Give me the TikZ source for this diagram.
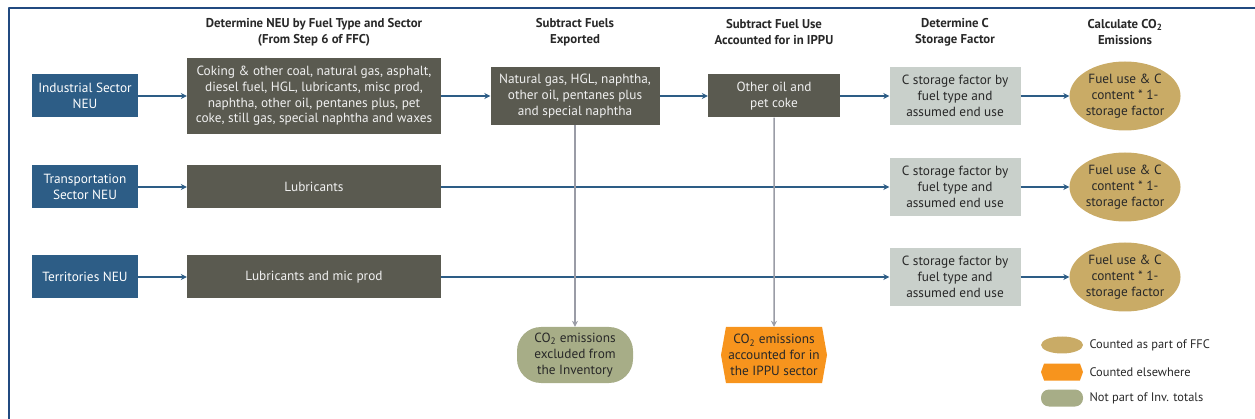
\documentclass[tikz,border=0pt]{standalone}
\usepackage{fontspec}
\setmainfont{PT Sans}
\usetikzlibrary{arrows.meta,shapes.geometric,shapes.symbols,positioning}
\definecolor{framecol}{RGB}{33,74,128}
\definecolor{secblue}{RGB}{45,93,134}
\definecolor{fuelgrey}{RGB}{90,90,80}
\definecolor{storegrey}{RGB}{201,208,203}
\definecolor{tan}{RGB}{201,171,102}
\definecolor{ippuorange}{RGB}{247,148,29}
\definecolor{olive}{RGB}{167,173,135}
\definecolor{dropgrey}{RGB}{154,156,166}
\definecolor{textdark}{RGB}{40,40,40}
\begin{document}
\begin{tikzpicture}[x=1pt,y=-1pt,>={Stealth[length=6pt,width=6pt]},
	font=\fontsize{13.3}{15.7}\selectfont, line join=round,
	head/.style={font=\bfseries\fontsize{12.8}{16}\selectfont, align=center, text=textdark},
	sector/.style={fill=secblue, text=white, minimum width=106pt, minimum height=43pt, align=center, inner sep=1pt},
	fuelbox/.style={fill=fuelgrey, text=white!88!gray, minimum width=254pt, minimum height=43pt, align=center, inner sep=1pt},
	storebox/.style={fill=storegrey, text=textdark, minimum width=131pt, minimum height=58pt, align=center, inner sep=1pt},
	emis/.style={ellipse, fill=tan, text=textdark, minimum width=109pt, minimum height=69pt, align=center, inner sep=0pt},
	excl/.style={fill=olive, text=textdark, minimum width=116pt, minimum height=56pt, rounded corners=24pt, align=center, inner sep=1pt},
	elsew/.style={signal, signal to=west and east, signal pointer angle=160, fill=ippuorange, text=textdark, minimum width=106pt, minimum height=56pt, align=center, inner sep=1pt},
	flow/.style={->, draw=secblue, line width=2pt},
	drop/.style={->, draw=dropgrey, line width=1.5pt},
	legtext/.style={anchor=west, text=textdark, font=\fontsize{12.4}{14}\selectfont}]
\useasboundingbox (0,0) rectangle (1255,419);
% frame
\draw[framecol, line width=2.5pt] (9,419) -- (9,8) -- (1255,8);

% column heads
\node[head] (h1) at (314,32) {Determine NEU by Fuel Type and Sector\\(From Step 6 of FFC)};
\node[head] (h2) at (575,32) {Subtract Fuels\\Exported};
\node[head] (h3) at (774,32) {Subtract Fuel Use\\Accounted for in IPPU};
\node[head] (h4) at (955,32) {Determine C\\Storage Factor};
\node[head] (h5) at (1125,32) {Calculate CO\textsubscript{2}\\Emissions};

% sectors
\node[sector] (ind) at (85,96) {Industrial Sector\\NEU};
\node[sector] (tra) at (85,187) {Transportation\\Sector NEU};
\node[sector] (ter) at (85,277) {Territories NEU};

% fuels
\node[fuelbox, minimum height=76pt] (coke) at (314,96) {Coking \& other coal, natural gas, asphalt,\\diesel fuel, HGL, lubricants, misc prod,\\naphtha, other oil, pentanes plus, pet\\coke, still gas, special naphtha and waxes};
\node[fuelbox] (lub) at (314,187) {Lubricants};
\node[fuelbox] (lubmic) at (314,277) {Lubricants and mic prod};
\node[fuelbox, minimum width=169pt, minimum height=58pt] (natgas) at (575,96) {Natural gas, HGL, naphtha,\\other oil, pentanes plus\\and special naphtha};
\node[fuelbox, minimum width=132pt] (oiloil) at (774,96) {Other oil and\\pet coke};

% storage factor and emissions
\foreach \r/\y in {1/96,2/187,3/277}{
	\node[storebox] (st\r) at (955,\y) {C storage factor by\\fuel type and\\assumed end use};
	\node[emis] (em\r) at (1125,\y) {Fuel use \& C\\content * 1-\\storage factor};
	\draw[flow] (st\r) -- (em\r);
}

% excluded
\node[excl] (exinv) at (575,355) {CO\textsubscript{2} emissions\\excluded from\\the Inventory};
\node[elsew] (exippu) at (774,355) {CO\textsubscript{2} emissions\\accounted for in\\the IPPU sector};

% connectors
\draw[flow] (ind) -- (coke);
\draw[flow] (coke) -- (natgas);
\draw[flow] (natgas) -- (oiloil);
\draw[flow] (oiloil) -- (st1);
\draw[flow] (tra) -- (lub);
\draw[flow] (lub) -- (st2);
\draw[flow] (ter) -- (lubmic);
\draw[flow] (lubmic) -- (st3);
\draw[drop] (natgas) -- (exinv);
\draw[drop] (oiloil) -- (exippu);

% legend
\node[emis, minimum width=42pt, minimum height=17pt] (lgffc) at (1062,345) {};
\node[elsew, minimum width=42pt, minimum height=17pt, signal pointer angle=140] (lgelse) at (1062,372) {};
\node[excl, minimum width=42pt, minimum height=17pt, rounded corners=8pt] (lgnot) at (1062,398) {};
\node[legtext] (tffc) at (1086,345) {Counted as part of FFC};
\node[legtext] (telse) at (1086,372) {Counted elsewhere};
\node[legtext] (tnot) at (1086,398) {Not part of Inv. totals};
\end{tikzpicture}
\end{document}
